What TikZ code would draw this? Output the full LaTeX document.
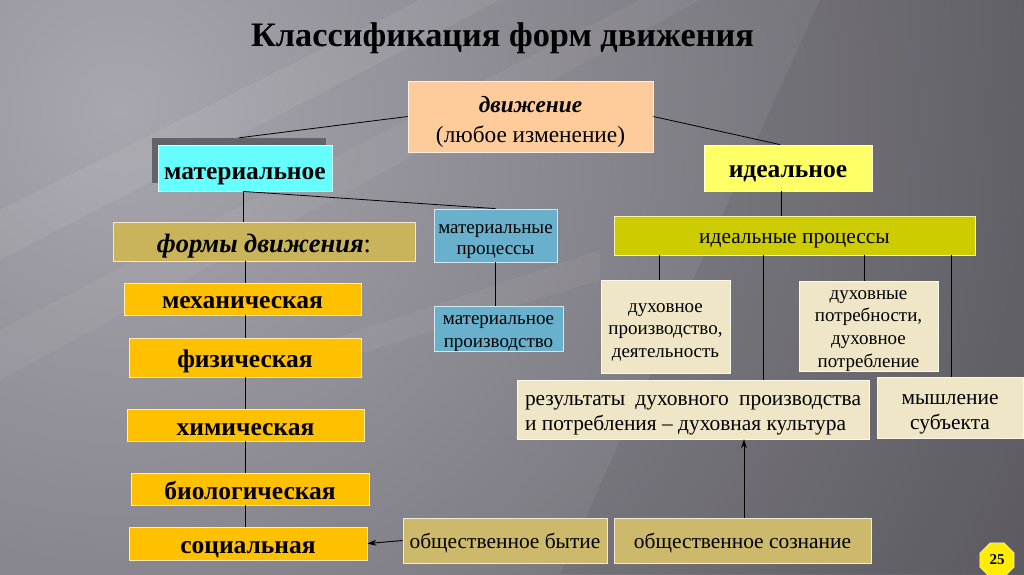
\documentclass[tikz,border=0pt]{standalone}
\usepackage{fontspec}
\IfFontExistsTF{LiberationSerif-Regular.ttf}
 {\setmainfont{LiberationSerif}[Extension=.ttf, UprightFont=*-Regular, BoldFont=*-Bold, ItalicFont=*-Italic, BoldItalicFont=*-BoldItalic]}
 {\setmainfont{Liberation Serif}}
\usetikzlibrary{arrows.meta,shapes.geometric}
\definecolor{bgdark}{RGB}{92,90,97}
\definecolor{bglight}{RGB}{168,166,174}
\definecolor{peach}{RGB}{253,204,154}
\definecolor{cyanbox}{RGB}{102,255,255}
\definecolor{yelbox}{RGB}{255,255,102}
\definecolor{olivebox}{RGB}{204,204,0}
\definecolor{khakibox}{RGB}{201,180,92}
\definecolor{steelbox}{RGB}{104,176,204}
\definecolor{orangebox}{RGB}{255,192,0}
\definecolor{creambox}{RGB}{238,230,198}
\definecolor{khakitwo}{RGB}{205,185,108}
\definecolor{shadowgray}{RGB}{100,99,103}
% text placed with its first baseline at (centre - #2)
\newcommand\boxtxt[3][c]{\raisebox{#2}[0pt][0pt]{\begin{tabular}[t]{@{}#1@{}}#3\end{tabular}}}
\begin{document}
\begin{tikzpicture}[x=1pt,y=-1pt,
  box/.style={draw=white!70!#1, line width=0.8pt, fill=#1, inner sep=0pt, text=black},
  conn/.style={draw=black, line width=0.8pt},
  arr/.style={draw=black, line width=0.9pt, -{Stealth[length=9pt,width=6pt]}},
  bigb/.style={font=\fontsize{25.5}{28}\selectfont\bfseries},
  reg/.style={font=\fontsize{21.4}{25}\selectfont},
  sml/.style={font=\fontsize{19}{#1}\selectfont}]
\useasboundingbox (0,0) rectangle (1024,574);
% background
\begin{scope}
\clip (0,0) rectangle (1024,574);
\fill[bgdark] (0,0) rectangle (1024,574);
\shade[inner color=bglight, outer color=bgdark] (120,110) circle (1100);
\fill[white, opacity=0.07] (0,210) -- (420,0) -- (500,0) -- (0,260) -- cycle;
\fill[white, opacity=0.05] (0,330) -- (640,0) -- (700,0) -- (0,380) -- cycle;
\fill[white, opacity=0.05] (300,350) -- (600,250) -- (600,280) -- (300,372) -- cycle;
\fill[black, opacity=0.06] (1024,0) -- (1024,574) -- (560,574) -- (820,0) -- cycle;
\end{scope}
% title
\node[font=\fontsize{34.3}{38}\selectfont\bfseries, inner sep=0pt, anchor=base] (title) at (502.5,46) {Классификация форм движения};
% top
\node[box=peach, minimum width=245, minimum height=71, font=\fontsize{23.3}{30}\selectfont] (dvizh) at (530.5,116.5) {\boxtxt{3.8pt}{\textbf{\textit{движение}}\\(любое изменение)}};
\node[fill=shadowgray, minimum width=174, minimum height=45, inner sep=0pt] (matsh) at (239,160.5) {};
\node[box=cyanbox, minimum width=174, minimum height=46, bigb] (mat) at (245,168) {\boxtxt{-11pt}{материальное}};
\node[box=yelbox, minimum width=168, minimum height=46, bigb] (ideal) at (788,168) {\boxtxt{-9pt}{идеальное}};
\node[box=olivebox, minimum width=361, minimum height=39, reg] (idproc) at (794.5,235.5) {\boxtxt{-7.5pt}{идеальные процессы}};
% material branch
\node[box=khakibox, minimum width=302, minimum height=39, font=\fontsize{26.5}{28}\selectfont] (formy) at (264,241.5) {\boxtxt{-11pt}{\textbf{\textit{формы движения}}:}};
\node[box=steelbox, minimum width=123, minimum height=53, sml=21] (matproc) at (495.5,235.5) {\boxtxt{2.5pt}{материальные\\процессы}};
\node[box=steelbox, minimum width=129, minimum height=45, sml=23] (matprod) at (498.5,328.5) {\boxtxt{4.5pt}{материальное\\производство}};
\node[box=orangebox, minimum width=237, minimum height=32, bigb] (mech) at (242.5,299) {\boxtxt{-9pt}{механическая}};
\node[box=orangebox, minimum width=232, minimum height=39, bigb] (fiz) at (245,357.5) {\boxtxt{-9.5pt}{физическая}};
\node[box=orangebox, minimum width=237, minimum height=32, bigb] (him) at (245.5,425) {\boxtxt{-10pt}{химическая}};
\node[box=orangebox, minimum width=238, minimum height=32, bigb] (bio) at (250,489) {\boxtxt{-10pt}{биологическая}};
\node[box=orangebox, minimum width=238, minimum height=33, bigb] (soc) at (248,543.5) {\boxtxt{-9.5pt}{социальная}};
% ideal branch
\node[box=creambox, minimum width=129, minimum height=93, sml=22.5] (duhprod) at (665.5,326.5) {\boxtxt{14.5pt}{духовное\\производство,\\деятельность}};
\node[box=creambox, minimum width=139, minimum height=90, sml=22.7] (duhpotr) at (868.5,326) {\boxtxt{27pt}{духовные\\потребности,\\духовное\\потребление}};
\node[box=creambox, minimum width=352, minimum height=59, reg] (rez) at (693,409.5) {\boxtxt[l]{4.5pt}{\makebox[336pt][s]{результаты духовного производства}\\и потребления – духовная культура}};
\node[box=creambox, minimum width=146, minimum height=61, reg] (mysh) at (950,407.5) {\boxtxt{3.5pt}{мышление\\субъекта}};
\node[box=khakitwo, minimum width=204, minimum height=45, reg] (obbyt) at (505,540.5) {\boxtxt{-7.5pt}{общественное бытие}};
\node[box=khakitwo, minimum width=257, minimum height=45, reg] (obsoz) at (742.5,540.5) {\boxtxt{-7.5pt}{общественное сознание}};
% badge
\node[regular polygon, regular polygon sides=8, fill=yellow!95!orange, draw=white!80!yellow, line width=0.5pt, minimum size=37pt, inner sep=0pt, font=\fontsize{15}{16}\selectfont\bfseries] (badge) at (997,560) {25};
% connectors
\path ([xshift=-8pt]ideal.north) coordinate (idtop);
\path ([xshift=-7pt]ideal.south) coordinate (idbot);
\path ([xshift=-2pt]mat.south) coordinate (matbot);
\path (245,0) coordinate (spine);
\draw[conn] (dvizh.west) -- (matsh.north);
\draw[conn] (dvizh.east) -- (idtop);
\draw[conn] (idbot) -- (idbot |- idproc.north);
\draw[conn] (matbot) -- (matbot |- formy.north);
\draw[conn] (matbot) -- (matproc.north);
\draw[conn] (matproc.south) -- (matproc.south |- matprod.north);
\draw[conn] (formy.south -| spine) -- (mech.north -| spine);
\draw[conn] (mech.south -| spine) -- (fiz.north -| spine);
\draw[conn] (fiz.south -| spine) -- (him.north -| spine);
\draw[conn] (him.south -| spine) -- (bio.north -| spine);
\draw[conn] (bio.south -| spine) -- (soc.north -| spine);
\path ([xshift=46pt]idproc.south west) coordinate (i1);
\path ([xshift=150pt]idproc.south west) coordinate (i2);
\path ([xshift=251pt]idproc.south west) coordinate (i3);
\path ([xshift=338pt]idproc.south west) coordinate (i4);
\draw[conn] (i1) -- (i1 |- duhprod.north);
\draw[conn] (i2) -- (i2 |- rez.north);
\draw[conn] (i3) -- (i3 |- duhpotr.north);
\draw[conn] (i4) -- (i4 |- mysh.north);
\draw[arr] (obbyt.west) -- (soc.east);
\draw[arr] ([xshift=1.5pt]obsoz.north) -- ([xshift=1.5pt]obsoz.north |- rez.south);
\end{tikzpicture}
\end{document}
